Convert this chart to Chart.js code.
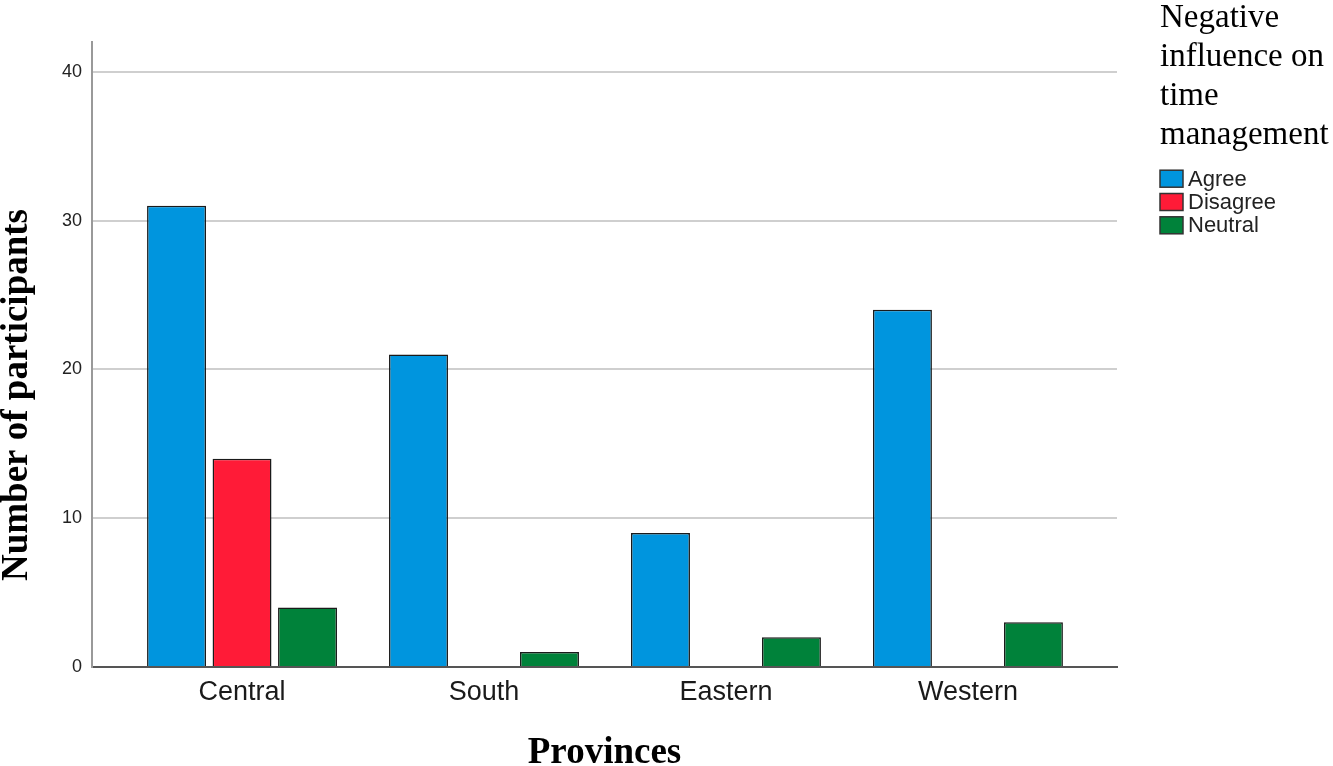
<!DOCTYPE html>
<html><head><meta charset="utf-8">
<script src="https://cdn.jsdelivr.net/npm/chart.js@4.4.0/dist/chart.umd.min.js"></script>
<style>html,body{margin:0;padding:0;background:#fff;overflow:hidden}#wrap{width:1333px;height:766px;position:relative}</style>
</head><body><div id="wrap"><canvas id="c" width="1333" height="766"></canvas></div>
<script>
const categories = ['Central', 'South', 'Eastern', 'Western'];
const seriesNames = ['Agree', 'Disagree', 'Neutral'];
const agreeValues = [31, 21, 9, 24];
const disagreeValues = [14, null, null, null];
const neutralValues = [4, 1, 2, 3];
const yTickValues = [0, 10, 20, 30, 40];
const legendTitleLines = ['Negative', 'influence on', 'time', 'management'];
const yTitleText = 'Number of participants';
const xTitleText = 'Provinces';
const seriesColors = ['#0095DE', '#FF1B37', '#00823A'];

const seriesValues = [agreeValues, disagreeValues, neutralValues];

const extras = {
  id: 'extras',
  afterDraw(chart) {
    const ctx = chart.ctx;
    ctx.save();
    ctx.translate(27, 395);
    ctx.rotate(-Math.PI / 2);
    ctx.font = 'bold 37px "Liberation Serif"';
    ctx.fillStyle = '#000';
    ctx.textAlign = 'center';
    ctx.textBaseline = 'alphabetic';
    ctx.fillText(yTitleText, 0, 0);
    ctx.restore();

    ctx.save();
    ctx.fillStyle = '#000';
    ctx.font = '33px "Liberation Serif"';
    ctx.textAlign = 'left';
    ctx.textBaseline = 'alphabetic';
    legendTitleLines.forEach((t, i) => ctx.fillText(t, 1160, 27 + i * 39));
    ctx.font = '22px "Liberation Sans"';
    ctx.textBaseline = 'middle';
    chart.data.datasets.forEach((ds, i) => {
      const cy = 178.7 + i * 23.3;
      ctx.fillStyle = ds.backgroundColor;
      ctx.fillRect(1160, cy - 8.5, 23, 17);
      ctx.strokeStyle = '#333';
      ctx.lineWidth = 1.5;
      ctx.strokeRect(1160, cy - 8.5, 23, 17);
      ctx.fillStyle = '#222';
      ctx.fillText(ds.label, 1188, cy + 1);
    });
    ctx.restore();
  }
};

new Chart(document.getElementById('c'), {
  type: 'bar',
  data: {
    datasets: seriesNames.map((name, s) => ({
      label: name,
      data: categories.map((c, i) => ({ x: i, y: seriesValues[s][i] })),
      backgroundColor: seriesColors[s],
      borderColor: '#1a1a1a',
      borderWidth: 1.5,
      categoryPercentage: 0.812,
      barPercentage: 0.9
    }))
  },
  options: {
    responsive: false,
    animation: false,
    devicePixelRatio: 1,
    layout: { padding: { top: 42, right: 216, bottom: 0, left: 0 } },
    plugins: { legend: { display: false }, tooltip: { enabled: false } },
    scales: {
      x: {
        type: 'linear',
        offset: false,
        bounds: 'data',
        min: -0.62,
        max: 3.616,
        afterBuildTicks: s => { s.ticks = categories.map((c, i) => ({ value: i })); },
        afterFit: s => { s.height = 99; },
        ticks: {
          callback: v => categories[v],
          font: { family: 'Liberation Sans', size: 27 },
          color: '#1a1a1a',
          padding: 9,
          autoSkip: false,
          maxRotation: 0
        },
        grid: { display: false, drawTicks: false, offset: false },
        border: { display: true, color: '#555', width: 2 },
        title: {
          display: true,
          text: xTitleText,
          font: { family: 'Liberation Serif', size: 37, weight: 'bold', lineHeight: '26px' },
          color: '#000',
          padding: 0
        }
      },
      y: {
        min: 0,
        max: 42,
        afterBuildTicks: s => { s.ticks = yTickValues.map(v => ({ value: v })); },
        afterFit: s => { s.width = 92; },
        ticks: {
          font: { family: 'Liberation Sans', size: 18 },
          color: '#222',
          padding: 10
        },
        grid: { color: '#cfcfcf', lineWidth: 2, drawTicks: false },
        border: { color: '#999', width: 2 }
      }
    }
  },
  plugins: [extras]
});
</script>
</body></html>
